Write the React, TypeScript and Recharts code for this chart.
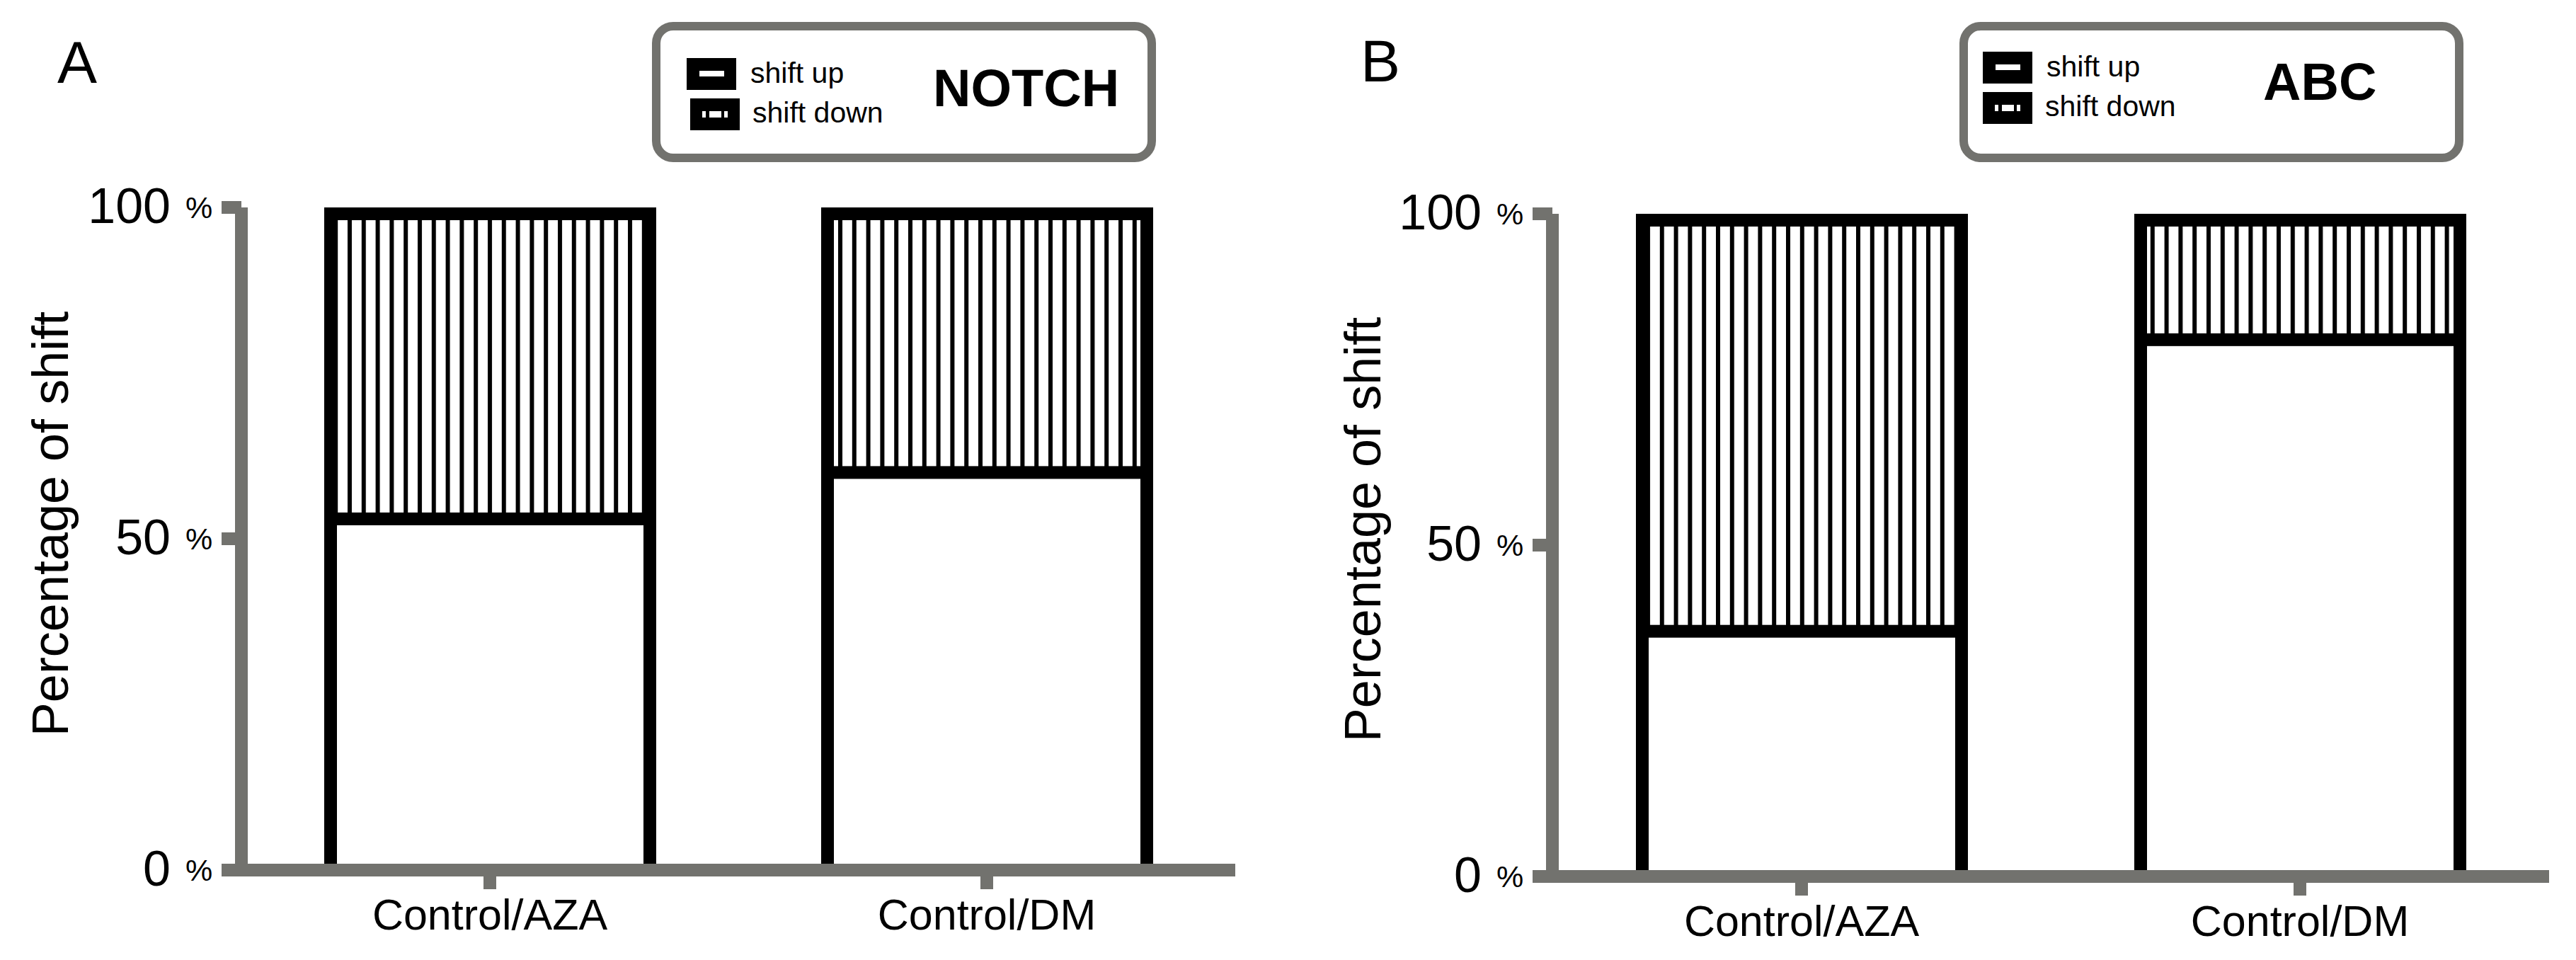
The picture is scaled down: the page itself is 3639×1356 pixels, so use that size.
import { BarChart, Bar, XAxis, YAxis } from 'recharts';

const categories = ['Control/AZA', 'Control/DM'];
const notchShiftUp = [53, 60];
const notchShiftDown = [47, 40];
const abcShiftUp = [37, 81];
const abcShiftDown = [63, 19];
const yTicks = [0, 50, 100];

const GRAY = '#72726e';
const FONT = '"Liberation Sans", Arial, sans-serif';
const EDGE = 18;

const buildData = (up: number[], down: number[]) =>
  categories.map((name, i) => ({ name, shiftUp: up[i], shiftDown: down[i] }));

// white lower part: side borders only, the x axis covers the bottom
const LowerSegment = (props: any) => {
  const { x, y, width, height } = props;
  const h = Math.max(height - EDGE / 2, 0);
  return (
    <g>
      <rect x={x} y={y} width={width} height={h} fill="#fff" />
      <rect x={x} y={y} width={EDGE} height={h} fill="#000" />
      <rect x={x + width - EDGE} y={y} width={EDGE} height={h} fill="#000" />
    </g>
  );
};

// hatched upper part: sides, top and the divider on its lower edge
const UpperSegment = (props: any) => {
  const { x, y, width, height, fill } = props;
  return (
    <g>
      <rect x={x} y={y} width={width} height={height} fill={fill} />
      <rect x={x} y={y} width={EDGE} height={height} fill="#000" />
      <rect x={x + width - EDGE} y={y} width={EDGE} height={height} fill="#000" />
      <rect x={x} y={y} width={width} height={EDGE} fill="#000" />
      <rect x={x} y={y + height - EDGE / 2} width={width} height={EDGE} fill="#000" />
    </g>
  );
};

const YTick = (props: any) => {
  const { x, y, payload } = props;
  return (
    <g>
      <text x={x - 72} y={y + 22} textAnchor="end" fontSize={70} fontFamily={FONT} fill="#000">
        {payload.value}
      </text>
      <text x={x - 51} y={y + 15} fontSize={43} fontFamily={FONT} fill="#000">
        %
      </text>
    </g>
  );
};

const XTick = (props: any) => {
  const { x, y, payload } = props;
  return (
    <text x={x} y={y + 57} textAnchor="middle" fontSize={61} fontFamily={FONT} fill="#000">
      {payload.value}
    </text>
  );
};

interface PanelProps {
  data: { name: string; shiftUp: number; shiftDown: number }[];
  width: number;
  top: number;
  right: number;
  yAxisWidth: number;
  xAxisHeight: number;
  patternId: string;
  patternX: number;
}

const Panel = ({ data, width, top, right, yAxisWidth, xAxisHeight, patternId, patternX }: PanelProps) => (
  <BarChart
    width={width}
    height={1356}
    data={data}
    margin={{ top, right, bottom: 0, left: 0 }}
    barSize={469}
  >
    <defs>
      <pattern id={patternId} patternUnits="userSpaceOnUse" x={patternX} y={0} width={19.8} height={20}>
        <rect width={19.8} height={20} fill="#fff" />
        <rect x={0} width={6} height={20} fill="#000" />
      </pattern>
    </defs>
    <Bar dataKey="shiftUp" stackId="s" fill="#fff" shape={LowerSegment} isAnimationActive={false} />
    <Bar dataKey="shiftDown" stackId="s" fill={`url(#${patternId})`} shape={UpperSegment} isAnimationActive={false} />
    <YAxis
      type="number"
      domain={[0, 100]}
      ticks={yTicks}
      width={yAxisWidth}
      axisLine={{ stroke: GRAY, strokeWidth: EDGE }}
      tickLine={{ stroke: GRAY, strokeWidth: EDGE }}
      tickSize={28}
      tickMargin={0}
      tick={<YTick />}
      interval={0}
    />
    <XAxis
      dataKey="name"
      type="category"
      height={xAxisHeight}
      axisLine={{ stroke: GRAY, strokeWidth: EDGE }}
      tickLine={{ stroke: GRAY, strokeWidth: EDGE }}
      tickSize={27}
      tickMargin={0}
      tick={<XTick />}
      interval={0}
    />
  </BarChart>
);

const LegendBox = ({ x, title, titleX, up, down }: any) => (
  <g fontFamily={FONT}>
    <rect x={x + 6} y={37} width={700} height={186} rx={24} fill="#fff" stroke={GRAY} strokeWidth={12} />
    <rect x={up.x} y={up.y} width={70} height={45} fill="#000" />
    <rect x={up.x + 18} y={up.y + 18} width={35} height={8} fill="#fff" />
    <rect x={down.x} y={down.y} width={70} height={45} fill="#000" />
    <rect x={down.x + 17} y={down.y + 18} width={5} height={9} fill="#fff" />
    <rect x={down.x + 27} y={down.y + 18} width={17} height={9} fill="#fff" />
    <rect x={down.x + 48} y={down.y + 18} width={5} height={9} fill="#fff" />
    <text x={up.x + 90} y={up.y + 35} fontSize={41} fill="#000">shift up</text>
    <text x={down.x + 88} y={down.y + 34} fontSize={41} fill="#000">shift down</text>
    <text x={titleX} y={up.y + 68} fontSize={74} fontWeight="bold" fill="#000">{title}</text>
  </g>
);

export default function App() {
  const notchData = buildData(notchShiftUp, notchShiftDown);
  const abcData = buildData(abcShiftUp, abcShiftDown);
  return (
    <div style={{ position: 'absolute', left: 0, top: 0, width: 3639, height: 1356, background: '#fff', overflow: 'hidden' }}>
      <div style={{ position: 'absolute', left: 0, top: 0 }}>
        <Panel data={notchData} width={1820} top={293} right={75} yAxisWidth={341} xAxisHeight={127} patternId="hatchA" patternX={491} />
      </div>
      <div style={{ position: 'absolute', left: 1820, top: 0 }}>
        <Panel data={abcData} width={1819} top={302} right={38} yAxisWidth={373} xAxisHeight={118} patternId="hatchB" patternX={505} />
      </div>
      <svg width={3639} height={1356} style={{ position: 'absolute', left: 0, top: 0, pointerEvents: 'none' }}>
        <text x={81} y={117} fontSize={84} fontFamily={FONT} fill="#000">A</text>
        <text x={1922} y={115} fontSize={84} fontFamily={FONT} fill="#000">B</text>
        <text x={96} y={740} fontSize={72} fontFamily={FONT} fill="#000" textAnchor="middle" transform="rotate(-90 96 740)">
          Percentage of shift
        </text>
        <text x={1950} y={748} fontSize={72} fontFamily={FONT} fill="#000" textAnchor="middle" transform="rotate(-90 1950 748)">
          Percentage of shift
        </text>
        <LegendBox x={921} title="NOTCH" titleX={1318} up={{ x: 970, y: 82 }} down={{ x: 975, y: 139 }} />
        <LegendBox x={2768} title="ABC" titleX={3197} up={{ x: 2801, y: 73 }} down={{ x: 2801, y: 130 }} />
      </svg>
    </div>
  );
}
